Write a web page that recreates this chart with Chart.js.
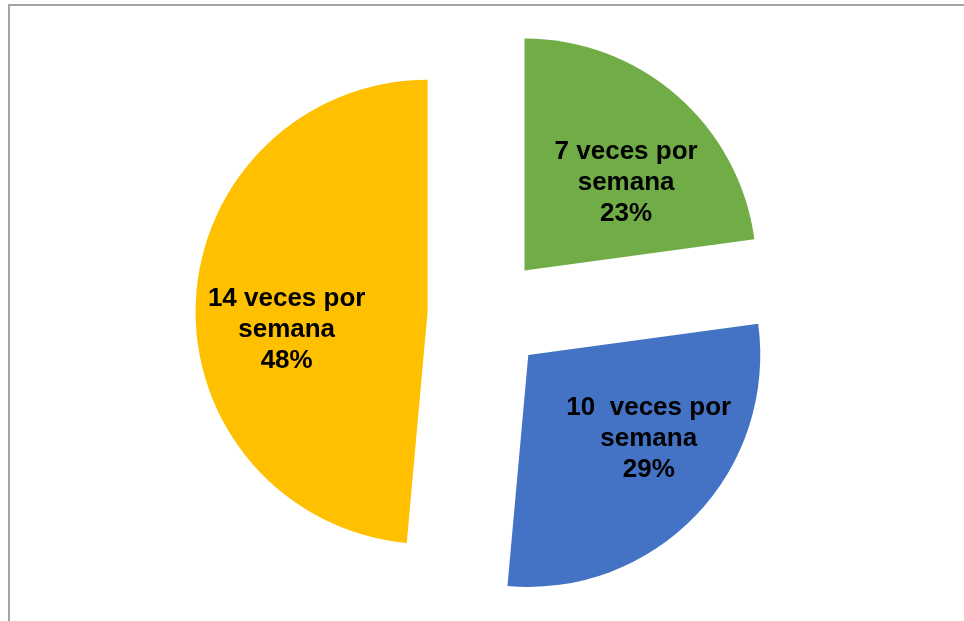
<!DOCTYPE html>
<html>
<head>
<meta charset="utf-8">
<script src="https://cdn.jsdelivr.net/npm/chart.js@4.4.1/dist/chart.umd.min.js"></script>
<style>
  html, body { margin: 0; padding: 0; background: #ffffff; }
  #wrap { position: relative; width: 964px; height: 621px; overflow: hidden; }
  #frame { position: absolute; left: 8px; top: 4px; width: 970px; height: 640px;
           border-top: 2px solid #a3a3a3; border-left: 2px solid #a3a3a3; box-sizing: border-box; }
  canvas { position: absolute; left: 0; top: 0; }
</style>
</head>
<body>
<div id="wrap">
  <div id="frame"></div>
  <canvas id="c" width="964" height="621"></canvas>
</div>
<script>
// ---- data ----
const categories = ["7 veces por semana", "10  veces por semana", "14 veces por semana"];
const labelLines = [["7 veces por", "semana"], ["10  veces por", "semana"], ["14 veces por", "semana"]];
const values = [22.86, 28.57, 48.57];          // slice shares
const percentLabels = ["23%", "29%", "48%"];    // labels as printed on the chart
const colors = ["#70AD47", "#4472C4", "#FFC000"];

// ---- presentation ----
const explode = 58.5;                        // px each slice is pulled out along its bisector
const labelAngleShift = [7.45, -9.5, -8.85]; // degrees from the bisector
const labelRadiusFrac = [0.584, 0.628, 0.611];

const explodePlugin = {
  id: 'explode',
  afterDatasetUpdate(chart, args) {
    args.meta.data.forEach(arc => {
      const mid = (arc.startAngle + arc.endAngle) / 2;
      arc.x += Math.cos(mid) * explode;
      arc.y += Math.sin(mid) * explode;
    });
  }
};

const labelPlugin = {
  id: 'sliceLabels',
  afterDatasetsDraw(chart) {
    const ctx = chart.ctx;
    const meta = chart.getDatasetMeta(0);
    ctx.save();
    ctx.font = 'bold 26px "Liberation Sans", Arial, sans-serif';
    ctx.fillStyle = '#000000';
    ctx.textAlign = 'center';
    ctx.textBaseline = 'alphabetic';
    const lh = 31;
    meta.data.forEach((arc, i) => {
      const mid = (arc.startAngle + arc.endAngle) / 2 + labelAngleShift[i] * Math.PI / 180;
      const rr = arc.outerRadius * labelRadiusFrac[i];
      const cx = arc.x + Math.cos(mid) * rr;
      const cy = arc.y + Math.sin(mid) * rr;
      const lines = labelLines[i].concat([percentLabels[i]]);
      const start = cy - (lines.length - 1) / 2 * lh + 9.5;
      lines.forEach((t, k) => ctx.fillText(t, cx, start + k * lh));
    });
    ctx.restore();
  }
};

new Chart(document.getElementById('c'), {
  type: 'pie',
  data: {
    labels: categories,
    datasets: [{
      data: values,
      backgroundColor: colors,
      borderWidth: 0
    }]
  },
  options: {
    responsive: false,
    animation: false,
    events: [],
    radius: 232,
    layout: { padding: { left: 8, top: 8, right: 0, bottom: 0 } },
    plugins: {
      legend: { display: false },
      tooltip: { enabled: false }
    }
  },
  plugins: [explodePlugin, labelPlugin]
});
</script>
</body>
</html>
